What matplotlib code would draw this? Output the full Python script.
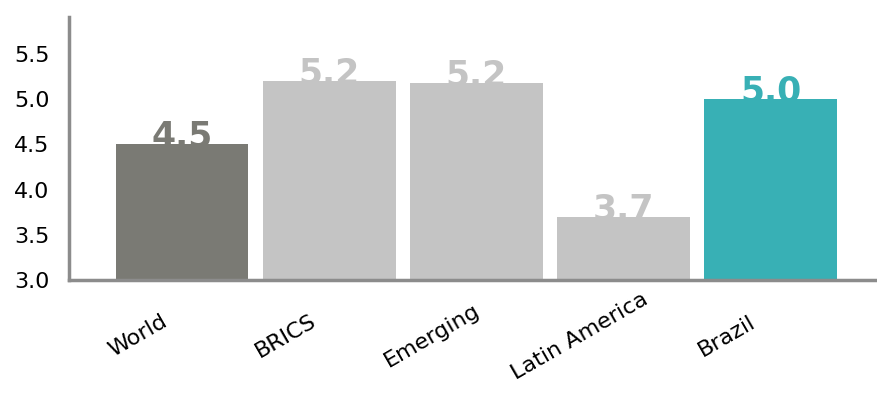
import matplotlib
matplotlib.use('Agg')
import matplotlib.pyplot as plt
import matplotlib.transforms as mtransforms

# Дані
categories = ['World', 'BRICS', 'Emerging', 'Latin America', 'Brazil']
values = [4.5, 5.2, 5.18, 3.7, 5.0]
labels = ['4.5', '5.2', '5.2', '3.7', '5.0']
colors = ['#7a7a74', '#c4c4c4', '#c4c4c4', '#c4c4c4', '#38b0b5']

fig = plt.figure(figsize=(8.78, 3.94), dpi=100)
ax = fig.add_axes([0.0786, 0.289, 0.9214, 0.668])

x = range(len(categories))
ax.bar(x, [v - 3.0 for v in values], bottom=3.0, width=0.9, color=colors, zorder=2)

# Підписи значень (частково сховані під стовпчиками)
for i, (v, lab, c) in enumerate(zip(values, labels, colors)):
    ax.text(i, v - 0.025, lab, ha='center', va='baseline', fontsize=25,
            fontweight='bold', color=c, zorder=1)

ax.set_xlim(-0.77, 4.73)
ax.set_ylim(3.0, 5.91)
ax.set_yticks([3.0, 3.5, 4.0, 4.5, 5.0, 5.5])
ax.set_yticklabels(['3.0', '3.5', '4.0', '4.5', '5.0', '5.5'], fontsize=16)
ax.set_xticks(list(x))
ax.set_xticklabels(categories, fontsize=16, rotation=30, ha='center', va='center')
ax.tick_params(axis='both', length=0)
ax.tick_params(axis='x', pad=0)
ax.tick_params(axis='y', pad=14)

# Зсув підписів осі X вліво і вниз
offset = mtransforms.ScaledTranslation(-0.44, -0.56, fig.dpi_scale_trans)
for lab in ax.get_xticklabels():
    lab.set_transform(lab.get_transform() + offset)

for s in ['top', 'right']:
    ax.spines[s].set_visible(False)
for s in ['left', 'bottom']:
    ax.spines[s].set_color('#8c8c8c')
    ax.spines[s].set_linewidth(2.5)

fig.savefig('out.png', dpi=100)
